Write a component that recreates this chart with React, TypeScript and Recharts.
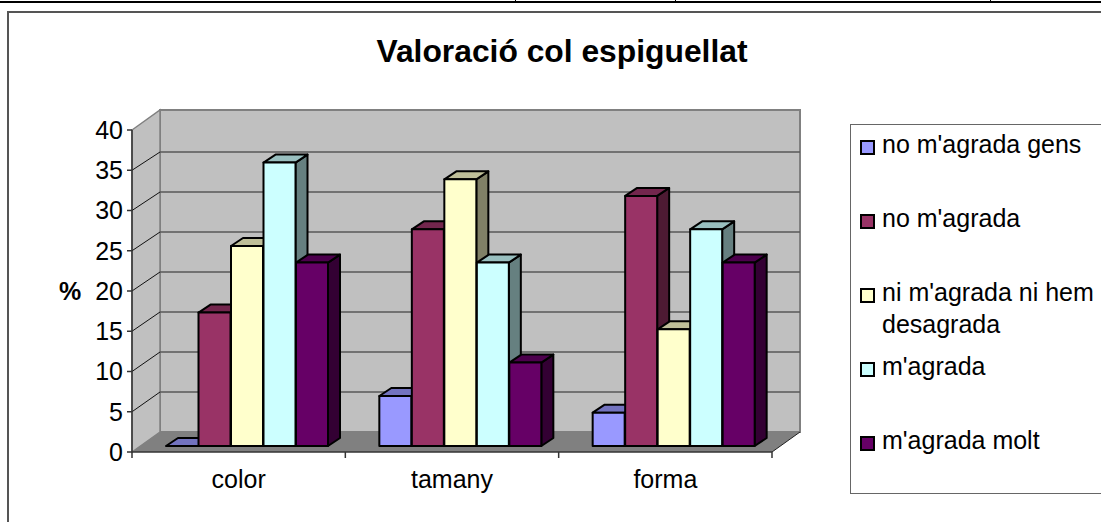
import React from "react";
import { BarChart, Bar, XAxis, YAxis, CartesianGrid, Legend } from "recharts";

const categories = ["color", "tamany", "forma"];
const noGens = [0, 6.25, 4.17];
const noAgrada = [16.67, 27.08, 31.25];
const niNi = [25, 33.33, 14.58];
const agrada = [35.42, 22.92, 27.08];
const molt = [22.92, 10.42, 22.92];
const yTicks = [0, 5, 10, 15, 20, 25, 30, 35, 40];

const seriesNames = [
  "no m'agrada gens",
  "no m'agrada",
  "ni m'agrada ni hem desagrada",
  "m'agrada",
  "m'agrada molt",
];
const seriesValues = [noGens, noAgrada, niNi, agrada, molt];
const seriesColors = ["#9999FF", "#993366", "#FFFFCC", "#CCFFFF", "#660066"];
const FONT = "'Liberation Sans', Arial, sans-serif";

const chartData = categories.map((name, i) => {
  const row: Record<string, string | number> = { name };
  seriesNames.forEach((s, j) => {
    row[s] = seriesValues[j][i];
  });
  return row;
});

// plot area of the front plane, the back wall sits WALL_X / WALL_Y away
const LEFT = 132;
const RIGHT = 772;
const TOP = 130;
const BOTTOM = 452;
const WALL_X = 28;
const WALL_Y = 20;
const STEP = (BOTTOM - TOP) / (yTicks.length - 1);
const BACK_STEP = 40;
const innerSteps = yTicks.slice(1, -1).map((_, i) => i + 1);
const backLines = innerSteps.map((i) => BOTTOM - WALL_Y - i * BACK_STEP);

function shade(hex: string, k: number) {
  const n = parseInt(hex.slice(1), 16);
  const c = (v: number) => Math.round(v * k);
  return `rgb(${c((n >> 16) & 255)},${c((n >> 8) & 255)},${c(n & 255)})`;
}

// sits in its own svg under the chart, the grid and the bars draw over it
function Walls() {
  return (
    <svg width={1101} height={522} style={{ position: "absolute", left: 0, top: 0 }}>
      <rect x={LEFT + WALL_X} y={TOP - WALL_Y} width={RIGHT - LEFT} height={BOTTOM - TOP} fill="#C0C0C0" stroke="#808080" strokeWidth={2} />
      <polygon
        points={`${LEFT},${TOP} ${LEFT + WALL_X},${TOP - WALL_Y} ${LEFT + WALL_X},${BOTTOM - WALL_Y} ${LEFT},${BOTTOM}`}
        fill="#C0C0C0"
        stroke="#808080"
        strokeWidth={1.5}
      />
      <polygon
        points={`${LEFT},${BOTTOM} ${LEFT + WALL_X},${BOTTOM - WALL_Y} ${RIGHT + WALL_X},${BOTTOM - WALL_Y} ${RIGHT},${BOTTOM}`}
        fill="#808080"
      />
      <line x1={RIGHT} y1={BOTTOM} x2={RIGHT + WALL_X} y2={BOTTOM - WALL_Y} stroke="#222" strokeWidth={1} />
      {innerSteps.map((i) => (
        <line
          key={i}
          x1={LEFT}
          y1={BOTTOM - i * STEP}
          x2={LEFT + WALL_X}
          y2={BOTTOM - WALL_Y - i * BACK_STEP}
          stroke="#111"
          strokeWidth={1}
        />
      ))}
    </svg>
  );
}

// 3D look: front face pushed a bit into the floor, with top and side faces behind it
function Bar3D(props: any) {
  const { x, y, width, height, fill } = props;
  const dx = 8;
  const dy = -6;
  const ox = 12;
  const oy = -8;
  const h = height * 0.994; // the bars stand further back, so they come out a little shorter
  const l = x + dx;
  const r = l + width;
  const b = y + height + dy;
  const t = b - h;
  return (
    <g stroke="#000" strokeWidth={2} strokeLinejoin="round">
      <polygon points={`${r},${t} ${r + ox},${t + oy} ${r + ox},${b + oy} ${r},${b}`} fill={shade(fill, 0.5)} />
      <polygon points={`${l},${t} ${l + ox},${t + oy} ${r + ox},${t + oy} ${r},${t}`} fill={shade(fill, 0.75)} />
      <rect x={l} y={t} width={width} height={h} fill={fill} />
    </g>
  );
}

function CategoryTick(props: any) {
  const { x, y, payload, index } = props;
  const half = (RIGHT - LEFT) / categories.length / 2;
  return (
    <g>
      <line x1={x - half} y1={BOTTOM} x2={x - half} y2={BOTTOM + 6} stroke="#333" strokeWidth={1.5} />
      {index === categories.length - 1 && (
        <line x1={x + half} y1={BOTTOM} x2={x + half} y2={BOTTOM + 6} stroke="#333" strokeWidth={1.5} />
      )}
      <text x={x} y={y + 28} textAnchor="middle" fontSize={25} fontFamily={FONT} fill="#000">
        {payload.value}
      </text>
    </g>
  );
}

function LegendBox({ payload }: any) {
  return (
    <div
      style={{
        boxSizing: "border-box",
        width: 251,
        height: 370,
        border: "1px solid #666",
        borderRight: "none",
        fontFamily: FONT,
        fontSize: 25,
        lineHeight: "32px",
        color: "#000",
      }}
    >
      {(payload || []).map((item: any) => (
        <div key={item.value} style={{ display: "flex", height: 74, paddingTop: 3, paddingLeft: 9, boxSizing: "border-box" }}>
          <span
            style={{
              flex: "none",
              boxSizing: "border-box",
              width: 15,
              height: 15,
              marginTop: 12,
              marginRight: 7,
              background: item.color,
              border: "2px solid #000",
            }}
          />
          <span>{item.value}</span>
        </div>
      ))}
    </div>
  );
}

export default function App() {
  return (
    <div style={{ position: "absolute", left: 0, top: 0, width: 1101, height: 522, overflow: "hidden", background: "#fff" }}>
      {/* remains of the sheet the chart was pasted on */}
      <div style={{ position: "absolute", left: 0, top: 1, width: 1101, height: 2, background: "#000" }} />
      <div style={{ position: "absolute", left: 515, top: 0, width: 1, height: 2, background: "#000" }} />
      <div style={{ position: "absolute", left: 675, top: 0, width: 1, height: 2, background: "#000" }} />
      <div style={{ position: "absolute", left: 990, top: 0, width: 1, height: 2, background: "#000" }} />
      <div
        style={{
          position: "absolute",
          left: 7,
          top: 11,
          width: 1094,
          height: 511,
          boxSizing: "border-box",
          borderTop: "2px solid #555",
          borderLeft: "2px solid #555",
        }}
      />
      <Walls />
      <BarChart
        width={1101}
        height={522}
        data={chartData}
        margin={{ top: TOP, right: 1101 - RIGHT, bottom: 0, left: 0 }}
        barSize={32}
        barGap={0.5}
      >
        <text x={562} y={62} textAnchor="middle" fontSize={31.8} fontWeight="bold" fontFamily={FONT} fill="#000">
          Valoració col espiguellat
        </text>
        <CartesianGrid
          vertical={false}
          stroke="#595959"
          strokeWidth={1.5}
          x={LEFT + WALL_X}
          y={TOP - WALL_Y}
          width={RIGHT - LEFT}
          height={BOTTOM - TOP}
          horizontalPoints={backLines}
        />
        <XAxis
          dataKey="name"
          height={522 - BOTTOM}
          stroke="#333"
          strokeWidth={1.5}
          tickLine={false}
          interval={0}
          tick={<CategoryTick />}
        />
        <YAxis
          width={LEFT}
          domain={[0, 40]}
          ticks={yTicks}
          interval={0}
          stroke="#333"
          strokeWidth={1.5}
          tickSize={5}
          tickMargin={4}
          tick={{ fontSize: 25, fontFamily: FONT, fill: "#000" }}
          label={{
            value: "%",
            position: "insideLeft",
            offset: 59,
            style: { fontSize: 25, fontWeight: "bold", fontFamily: FONT, fill: "#000" },
          }}
        />
        <Legend
          layout="vertical"
          align="center"
          verticalAlign="middle"
          itemSorter={null}
          wrapperStyle={{ left: 850, top: 124, width: 251, height: 370, margin: 0 }}
          content={<LegendBox />}
        />
        {seriesNames.map((s, i) => (
          <Bar key={s} dataKey={s} fill={seriesColors[i]} shape={<Bar3D />} isAnimationActive={false} />
        ))}
      </BarChart>
    </div>
  );
}
